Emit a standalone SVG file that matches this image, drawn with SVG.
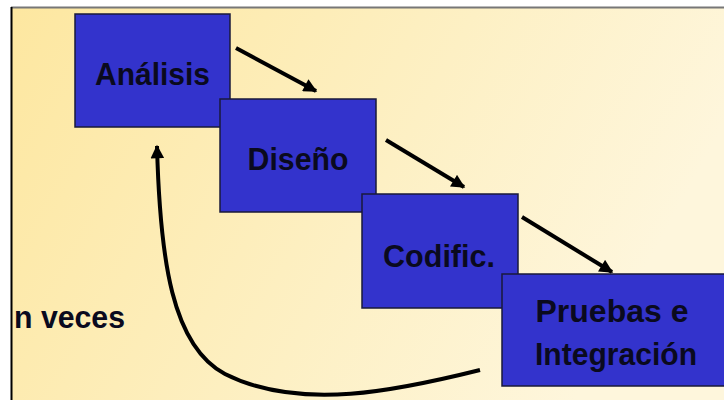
<svg xmlns="http://www.w3.org/2000/svg" width="724" height="400" viewBox="0 0 724 400">
<defs>
<linearGradient id="bg" x1="0" y1="0" x2="1" y2="0.3">
<stop offset="0" stop-color="#fde7a0"/>
<stop offset="0.6" stop-color="#fdf0c4"/>
<stop offset="1" stop-color="#fef6dc"/>
</linearGradient>
<marker id="ah" viewBox="0 0 10 10" refX="9" refY="5" markerWidth="3.6" markerHeight="3.4" orient="auto" markerUnits="strokeWidth">
<path d="M0,0 L10,5 L0,10 z" fill="#000"/>
</marker>
<style>
.box{fill:#3333cc;stroke:#1a1a3a;stroke-width:1.5}
.lbl{font-family:"Liberation Sans",Arial,sans-serif;font-weight:bold;font-size:32px;fill:#0a0a1e;text-anchor:middle}
.con{fill:none;stroke:#000;stroke-width:4;marker-end:url(#ah)}
</style>
</defs>
<rect x="0" y="0" width="724" height="400" fill="#fff"/>
<rect x="12" y="8" width="712" height="392" fill="url(#bg)"/>
<line x1="11" y1="7.5" x2="724" y2="7.5" stroke="#777" stroke-width="2"/>
<line x1="11.5" y1="7" x2="11.5" y2="400" stroke="#000" stroke-width="2"/>
<text x="14" y="328" font-family="Liberation Sans, Arial, sans-serif" font-weight="bold" font-size="31" fill="#0a0a1e" textLength="111" lengthAdjust="spacingAndGlyphs">n veces</text>
<g id="connectors">
<path class="con" d="M236,48 L316,91"/>
<path class="con" d="M386,140 L464,187"/>
<path class="con" d="M522,217 L612,272"/>
<path class="con" d="M480,370 C400,390 300,412 225,374 C172,346 160,260 157,146"/>
</g>
<g id="analisis"><rect class="box" x="75" y="14" width="155" height="113"/><text class="lbl" x="152.5" y="85" textLength="115" lengthAdjust="spacingAndGlyphs">Análisis</text></g>
<g id="diseno"><rect class="box" x="220" y="99" width="156" height="113"/><text class="lbl" x="298" y="170" textLength="101" lengthAdjust="spacingAndGlyphs">Diseño</text></g>
<g id="codific"><rect class="box" x="362" y="194" width="156" height="114"/><text class="lbl" x="439" y="267" textLength="112" lengthAdjust="spacingAndGlyphs">Codific.</text></g>
<g id="pruebas"><rect class="box" x="502" y="274" width="226" height="112"/><text class="lbl" x="612" y="322" textLength="153" lengthAdjust="spacingAndGlyphs">Pruebas e</text><text class="lbl" x="616" y="365" textLength="162" lengthAdjust="spacingAndGlyphs">Integración</text></g>
</svg>
